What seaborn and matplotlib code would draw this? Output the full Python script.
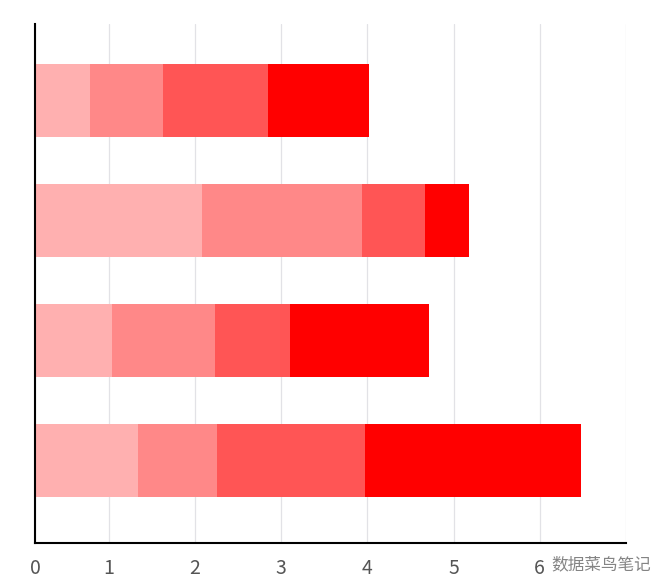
import matplotlib
matplotlib.use('Agg')
import matplotlib.pyplot as plt
import seaborn as sns
import pandas as pd
import numpy as np

# data, top bar first
groups = ["A", "B", "C", "D"]
seg1 = [0.78, 2.08, 1.04, 1.34]
seg2 = [0.85, 1.86, 1.19, 0.92]
seg3 = [1.22, 0.73, 0.87, 1.71]
seg4 = [1.17, 0.51, 1.61, 2.51]
colors = ["#ffb0b0", "#ff8888", "#ff5555", "#ff0000"]
tick_vals = [1, 2, 3, 4, 5, 6, 7]
tick_labels = ["1", "2", "3", "4", "5", "6", ""]

sns.set_style("white")
plt.rcParams['font.family'] = ['Noto Sans CJK SC', 'DejaVu Sans']

df = pd.DataFrame({"group": groups, "s1": seg1, "s2": seg2, "s3": seg3, "s4": seg4})
cum = df[["s1", "s2", "s3", "s4"]].cumsum(axis=1)

fig = plt.figure(figsize=(6.56, 5.86), dpi=100)
ax = fig.add_axes([35 / 656, 1 - 543 / 586, (626 - 35) / 656, (543 - 24) / 586])

# stacked bars: draw the running totals, largest first, each on top of the last
for col, c in zip(["s4", "s3", "s2", "s1"], colors[::-1]):
    sns.barplot(x=cum[col], y=df["group"], orient="h", color=c, width=0.61,
                saturation=1, linewidth=0, ax=ax, zorder=2)

x0 = 0.145
ax.set_xlim(x0, 7)
ax.set_ylim(3.6875, -0.6375)
ax.set_xticks([x0] + tick_vals)
ax.set_xticklabels(["0"] + tick_labels)
ax.set_yticks([-0.6375])
ax.set_yticklabels([])
ax.set_xlabel("")
ax.set_ylabel("")

ax.grid(axis="x", color="#e2e2e6", linewidth=0.9, zorder=0)
ax.set_axisbelow(True)
for s in ["top", "right"]:
    ax.spines[s].set_visible(False)
for s in ["left", "bottom"]:
    ax.spines[s].set_color("black")
    ax.spines[s].set_linewidth(1.5)

ax.tick_params(axis="x", direction="in", length=6, width=1.5, color="black",
               pad=11, labelsize=14, labelcolor="#555555")
for lab in ax.get_xticklabels():
    lab.set_fontweight("light")
ax.tick_params(axis="y", direction="inout", length=10, width=1.5, color="black")

# watermark in the lower right corner
fig.text(601 / 656, 1 - 565 / 586, "数据菜鸟笔记", ha="center", va="center",
         fontsize=12, color="#666666", alpha=0.8)

fig.savefig("out.png", dpi=100)
